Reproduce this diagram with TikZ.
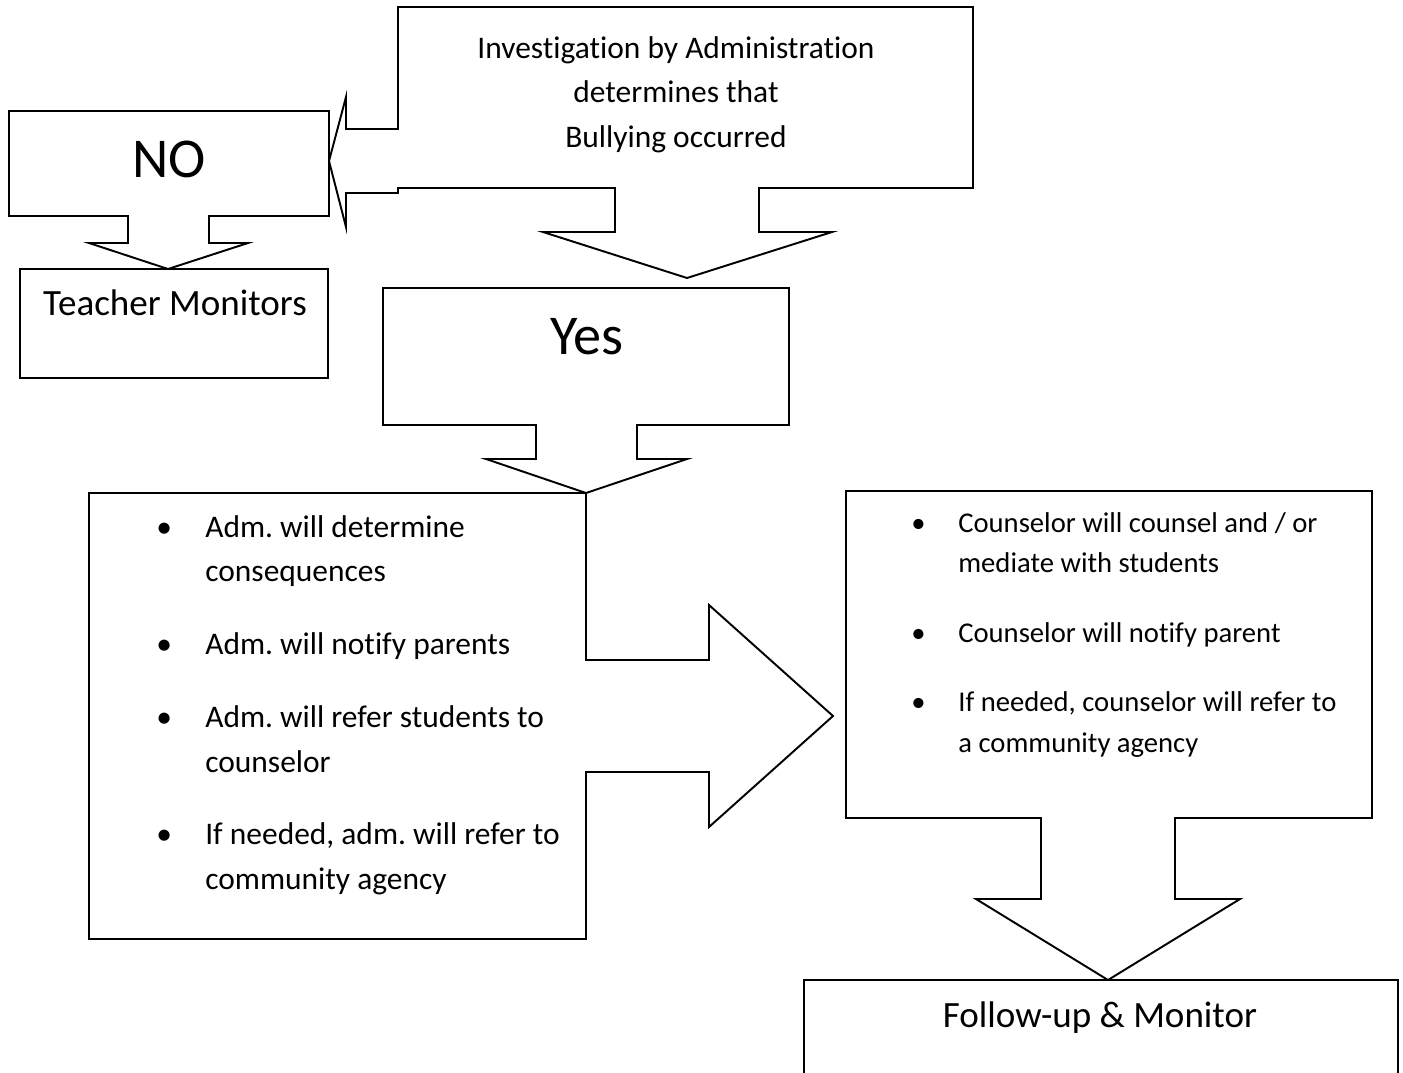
\documentclass[tikz,border=0pt]{standalone}
\usepackage{fontspec}
\setmainfont{Carlito}[Ligatures=NoCommon]
\frenchspacing
\usetikzlibrary{positioning}
\tikzset{
  callout/.style={draw=black,line width=1.1pt,line join=miter,fill=white},
  plain box/.style={draw=black,line width=1.1pt},
  title text/.style={font=\fontsize{17.9}{25.5}\selectfont,inner sep=0pt},
  big text/.style={font=\fontsize{32}{38}\selectfont,inner sep=0pt},
  label text/.style={font=\fontsize{21.1}{25}\selectfont,inner sep=0pt},
  adm text/.style={font=\fontsize{17.9}{25.5}\selectfont,inner sep=0pt},
  counsel text/.style={font=\fontsize{16.3}{23.2}\selectfont,inner sep=0pt}
}

\begin{document}
\begin{tikzpicture}[x=0.02cm,y=-0.02cm]
  \useasboundingbox (0,0) rectangle (1403,1072);
  \clip (0,0) rectangle (1403,1072);
  \fill[white] (0,0) rectangle (1403,1072);

  % Investigation box, with its arrows to NO and to Yes
  \draw[callout] (398,7) -- (973,7) -- (973,188) -- (759,188) -- (759,232)
    -- (832,232) -- (687,278) -- (543,232) -- (615,232) -- (615,188)
    -- (398,188) -- (398,193) -- (346,193) -- (346,227) -- (329,161)
    -- (346,97) -- (346,129) -- (398,129) -- cycle;
  \node[title text,anchor=base] (inv) at (676,58)
    {\begin{tabular}[t]{@{}c@{}}Investigation by Administration\\
      determines that\\ Bullying occurred\end{tabular}};

  % NO branch
  \draw[callout] (9,111) -- (329,111) -- (329,216) -- (209,216) -- (209,243)
    -- (248,243) -- (168,269) -- (89,243) -- (128,243) -- (128,216)
    -- (9,216) -- cycle;
  \node[big text,anchor=base] (no) at (169,177) {NO};

  \draw[plain box] (20,269) rectangle (328,378);
  \node[label text,anchor=base] (teacher) at (175,315) {Teacher Monitors};

  % Yes branch
  \draw[callout] (383,288) -- (789,288) -- (789,425) -- (637,425) -- (637,459)
    -- (687,459) -- (586,493) -- (486,459) -- (536,459) -- (536,425)
    -- (383,425) -- cycle;
  \node[big text,anchor=base] (yes) at (587,354) {Yes};

  % Administration steps, arrow to the counselor
  \draw[callout] (89,493) -- (586,493) -- (586,660) -- (709,660) -- (709,605)
    -- (833,716) -- (709,827) -- (709,772) -- (586,772) -- (586,939)
    -- (89,939) -- cycle;
  \node[adm text,anchor=base west] (admlist) at (156,537)
    {\begin{tabular}[t]{@{}p{0.98cm}@{}l@{}}
      • & Adm. will determine\\
        & consequences\\[15.9pt]
      • & Adm. will notify parents\\[15.9pt]
      • & Adm. will refer students to\\
        & counselor\\[15.9pt]
      • & If needed, adm. will refer to\\
        & community agency
    \end{tabular}};

  % Counselor steps, arrow to follow-up
  \draw[callout] (846,491) -- (1372,491) -- (1372,818) -- (1175,818) -- (1175,899)
    -- (1240,899) -- (1108,980) -- (976,899) -- (1041,899) -- (1041,818)
    -- (846,818) -- cycle;
  \node[counsel text,anchor=base west] (counsel) at (911,532)
    {\begin{tabular}[t]{@{}p{0.94cm}@{}l@{}}
      • & Counselor will counsel and / or\\
        & mediate with students\\[16.4pt]
      • & Counselor will notify parent\\[16.4pt]
      • & If needed, counselor will refer to\\
        & a community agency
    \end{tabular}};

  \draw[plain box] (804,980) rectangle (1398,1090);
  \node[label text,anchor=base] (follow) at (1100,1027) {Follow-up \& Monitor};
\end{tikzpicture}
\end{document}
